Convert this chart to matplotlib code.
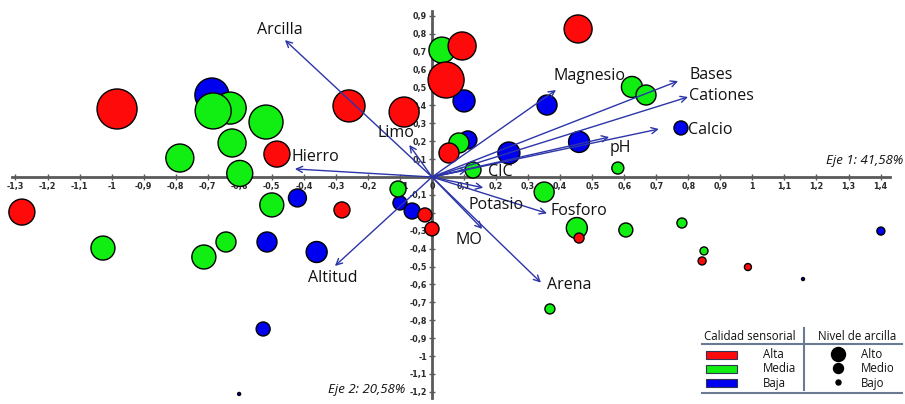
import matplotlib
matplotlib.use('Agg')
import matplotlib.pyplot as plt
from matplotlib.patches import Rectangle

# ---------------- data ----------------
# Calidad sensorial: Alta (red)
alta_x = [-0.983, -0.259, -0.087, -0.484, 0.094, 0.044, 0.456, -1.28, -0.281, 0.053, -0.022, 0.0, 0.459, 0.843, 0.986]
alta_y = [0.38, 0.397, 0.363, 0.128, 0.732, 0.542, 0.827, -0.196, -0.184, 0.134, -0.212, -0.29, -0.341, -0.469, -0.503]
alta_r = [20, 16, 15, 13, 14, 18, 14, 13, 8, 10, 7, 7, 5, 4, 3.5]

# Calidad sensorial: Media (green)
media_x = [-0.63, -0.683, -0.518, -0.624, -0.787, -0.6, -0.106, 0.031, 0.084, 0.128, 0.624, 0.668, 0.58,
           -1.027, -0.712, -0.643, -0.5, 0.35, 0.452, 0.605, 0.78, 0.849, 0.368]
media_y = [0.385, 0.369, 0.307, 0.19, 0.106, 0.02, -0.067, 0.709, 0.19, 0.039, 0.503, 0.458, 0.05,
           -0.397, -0.447, -0.363, -0.156, -0.084, -0.285, -0.296, -0.257, -0.413, -0.737]
media_r = [16, 18, 17, 14, 14, 13, 8, 13, 10, 8, 10.5, 10, 6,
           12, 12, 10, 12, 10, 10.5, 7, 5, 4, 5]

# Calidad sensorial: Baja (blue)
baja_x = [-0.687, 0.1, 0.112, 0.24, 0.359, 0.459, 0.777, -0.515, -0.42, -0.36, -0.527, -0.1, -0.062, 1.401, -0.602, 1.158]
baja_y = [0.458, 0.425, 0.207, 0.134, 0.402, 0.196, 0.274, -0.363, -0.117, -0.419, -0.849, -0.145, -0.19, -0.302, -1.212, -0.57]
baja_r = [17, 11, 9, 11, 10, 10.5, 7, 10, 9, 10.5, 7, 7, 8, 4, 1.5, 1.5]

# Variables (vectors)
var_names = ['Arcilla', 'Hierro', 'Limo', 'Altitud', 'Magnesio', 'Bases', 'Cationes', 'Calcio',
             'pH', 'CIC', 'Potasio', 'Fosforo', 'MO', 'Arena']
var_x = [-0.459, -0.428, -0.071, -0.303, 0.387, 0.768, 0.799, 0.708, 0.553, 0.11, 0.16, 0.359, 0.157, 0.34]
var_y = [0.765, 0.045, 0.179, -0.497, 0.486, 0.536, 0.447, 0.268, 0.223, 0.04, -0.06, -0.203, -0.29, -0.59]

xticks = [round(-1.3 + 0.1 * i, 1) for i in range(28)]
yticks = [round(-1.2 + 0.1 * i, 1) for i in range(22)]

# ---------------- layout ----------------
W, H = 905, 404
fig = plt.figure(figsize=(W / 100, H / 100), dpi=100)
ax = fig.add_axes([0, 0, 1, 1])
x0px, y0px = 432, 177
sx, sy = 320.4, 179.0
ax.set_xlim(-x0px / sx, (W - x0px) / sx)
ax.set_ylim(-(H - y0px) / sy, y0px / sy)

axis_col = '#5a5a5a'
for s in ['top', 'right']:
    ax.spines[s].set_visible(False)
ax.spines['left'].set_position(('data', 0))
ax.spines['bottom'].set_position(('data', 0))
ax.spines['bottom'].set_bounds(-1.31, 1.43)
ax.spines['left'].set_bounds(-1.235, 0.925)
for s in ['left', 'bottom']:
    ax.spines[s].set_color(axis_col)
    ax.spines[s].set_linewidth(2)
    ax.spines[s].set_zorder(1)

def fmt(v):
    if abs(v) < 1e-9:
        return '0'
    s = ('%.1f' % v).replace('.', ',')
    if s.endswith(',0'):
        s = s[:-2]
    return s

ax.set_xticks(xticks)
ax.set_xticklabels([fmt(v) for v in xticks])
ax.set_yticks([v for v in yticks if abs(v) > 1e-9])
ax.set_yticklabels([fmt(v) for v in yticks if abs(v) > 1e-9])
ax.tick_params(direction='inout', length=5, width=1, color=axis_col,
               labelsize=5.8, pad=1, labelcolor='#2a2a2a')
for lab in ax.get_xticklabels() + ax.get_yticklabels():
    lab.set_fontweight('bold')
    lab.set_family('DejaVu Sans')

def s_of(r):
    return [(2 * ri * 0.72) ** 2 for ri in r]

ax.scatter(baja_x, baja_y, s=s_of(baja_r), c='#0000f0', edgecolors='black', linewidths=1, zorder=3)
ax.scatter(media_x, media_y, s=s_of(media_r), c='#11ee11', edgecolors='black', linewidths=1, zorder=4)
ax.scatter(alta_x, alta_y, s=s_of(alta_r), c='#ff0a0a', edgecolors='black', linewidths=1, zorder=5)

arrow_col = '#2c35a8'
for x, y in zip(var_x, var_y):
    ax.annotate('', xy=(x, y), xytext=(0, 0),
                arrowprops=dict(arrowstyle='->', color=arrow_col, lw=1.0,
                                mutation_scale=11, shrinkA=0, shrinkB=0), zorder=6)

label_pos = {
    'Arcilla': (-0.474, 0.821, 'center'),
    'Hierro': (-0.437, 0.112, 'left'),
    'Limo': (-0.113, 0.245, 'center'),
    'Altitud': (-0.309, -0.564, 'center'),
    'Magnesio': (0.493, 0.564, 'center'),
    'Bases': (0.803, 0.57, 'left'),
    'Cationes': (0.803, 0.453, 'left'),
    'Calcio': (0.8, 0.263, 'left'),
    'pH': (0.587, 0.162, 'center'),
    'CIC': (0.212, 0.028, 'center'),
    'Potasio': (0.2, -0.156, 'center'),
    'Fosforo': (0.459, -0.19, 'center'),
    'MO': (0.115, -0.352, 'center'),
    'Arena': (0.428, -0.603, 'center'),
}
for name in var_names:
    lx, ly, ha = label_pos[name]
    ax.text(lx, ly, name, ha=ha, va='center', fontsize=11.5, family='Open Sans',
            color='#111111', zorder=7)

ax.text((W - 2 - x0px) / sx, (y0px - 160) / sy, 'Eje 1: 41,58%', ha='right', va='center',
        fontsize=9.5, style='italic', family='Open Sans', color='#111111', zorder=7)
ax.text((405 - x0px) / sx, (y0px - 390) / sy, 'Eje 2: 20,58%', ha='right', va='center',
        fontsize=9.5, style='italic', family='Open Sans', color='#111111', zorder=7)

# ---------------- legend (pixel coordinates) ----------------
lax = fig.add_axes([0, 0, 1, 1], zorder=10)
lax.set_xlim(0, W)
lax.set_ylim(H, 0)
lax.axis('off')
lax.patch.set_alpha(0)
lc = '#6a7a90'
lax.plot([702, 902], [344, 344], color=lc, lw=1.5)
lax.plot([702, 902], [393, 393], color=lc, lw=1.5)
lax.plot([804, 804], [328, 390], color=lc, lw=1.5)
lax.text(750, 336, 'Calidad sensorial', ha='center', va='center', fontsize=8.3, family='Open Sans', color='#111111')
lax.text(857, 336, 'Nivel de arcilla', ha='center', va='center', fontsize=8.3, family='Open Sans', color='#111111')
leg_cols = ['#ff0a0a', '#11ee11', '#0000f0']
leg_labs = ['Alta', 'Media', 'Baja']
leg_y = [355, 369, 383]
for c, l, yy in zip(leg_cols, leg_labs, leg_y):
    lax.add_patch(Rectangle((706, yy - 4.5), 31, 8.5, facecolor=c, edgecolor='#333355', lw=0.8))
    lax.text(763, yy, l, ha='left', va='center', fontsize=8.3, family='Open Sans', color='#111111')
niv_labs = ['Alto', 'Medio', 'Bajo']
niv_r = [7, 5, 2.5]
for l, r, yy in zip(niv_labs, niv_r, leg_y):
    lax.scatter([838], [yy - 1], s=(2 * r * 0.72) ** 2, c='black')
    lax.text(861, yy, l, ha='left', va='center', fontsize=8.3, family='Open Sans', color='#111111')

fig.savefig('out.png', dpi=100)
